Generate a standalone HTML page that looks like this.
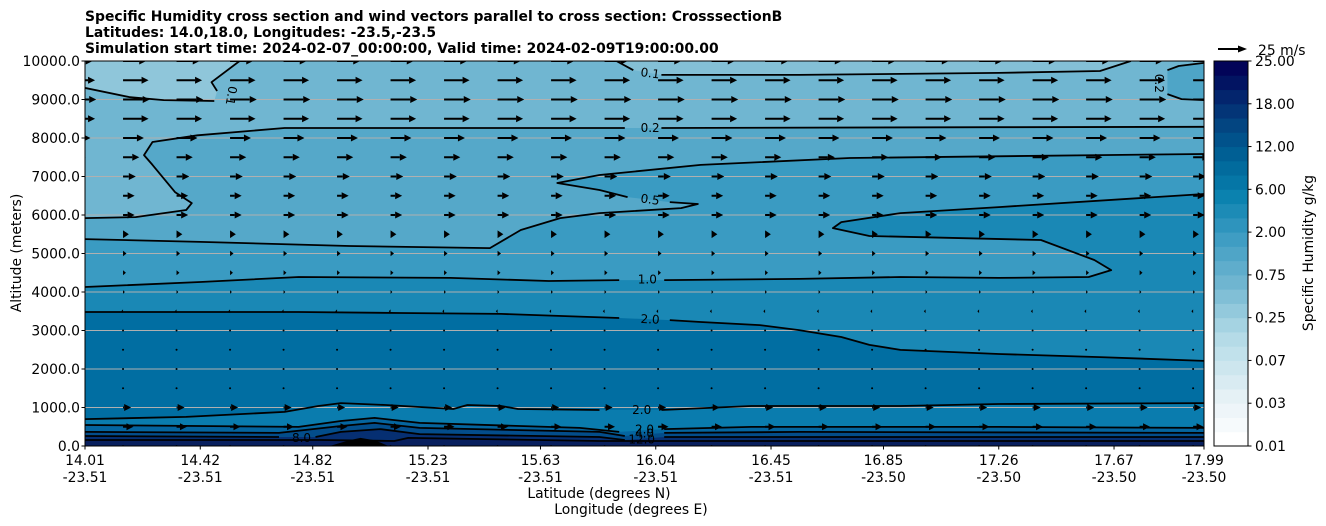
<!DOCTYPE html>
<html><head><meta charset="utf-8"><style>
body{margin:0;background:#fff;}
svg{display:block;font-family:"DejaVu Sans","Liberation Sans",sans-serif;}
</style></head><body>
<svg id="chart" width="1326" height="526" viewBox="0 0 1326 526" xmlns="http://www.w3.org/2000/svg">
<defs><clipPath id="plotclip"><rect x="85" y="61" width="1119" height="385"/></clipPath></defs>
<g font-weight="bold" font-size="13.9">
<text x="85" y="21">Specific Humidity cross section and wind vectors parallel to cross section: CrosssectionB</text>
<text x="85" y="37">Latitudes: 14.0,18.0, Longitudes: -23.5,-23.5</text>
<text x="85" y="53">Simulation start time: 2024-02-07_00:00:00, Valid time: 2024-02-09T19:00:00.00</text>
</g>
<g id="fills" clip-path="url(#plotclip)"></g>
<g id="grid"></g>
<g id="contours" clip-path="url(#plotclip)" fill="none" stroke="#000" stroke-width="1.8"></g>
<g id="arrows" clip-path="url(#plotclip)"></g>
<g id="clabels" font-size="12"></g>
<rect x="85" y="61" width="1119" height="385" fill="none" stroke="#000" stroke-width="1"/>
<g id="yaxis" font-size="13.9"></g>
<g id="xaxis" font-size="13.9"></g>
<text x="21" y="253" font-size="13.9" text-anchor="middle" transform="rotate(-90 21 253)">Altitude (meters)</text>
<text x="599" y="498" font-size="13.9" text-anchor="middle">Latitude (degrees N)</text>
<text x="631" y="514" font-size="13.9" text-anchor="middle">Longitude (degrees E)</text>
<g id="colorbar" font-size="13.9"></g>
<text x="1313" y="253" font-size="13.9" text-anchor="middle" transform="rotate(-90 1313 253)">Specific Humidity g/kg</text>
<g>
<line x1="1218" y1="49" x2="1240" y2="49" stroke="#000" stroke-width="2"/>
<polygon points="1247,49 1238,45.5 1238,52.5" fill="#000"/>
<text x="1258" y="55" font-size="13.9">25 m/s</text>
</g>
</svg>
<script>
const NS='http://www.w3.org/2000/svg';
// ---- data ----
const xTickLats=[14.01,14.42,14.82,15.23,15.63,16.04,16.45,16.85,17.26,17.67,17.99];
const xTickLabels=['14.01','14.42','14.82','15.23','15.63','16.04','16.45','16.85','17.26','17.67','17.99'];
const xTickLons=['-23.51','-23.51','-23.51','-23.51','-23.51','-23.51','-23.51','-23.50','-23.50','-23.50','-23.50'];
const yTicks=[0,1000,2000,3000,4000,5000,6000,7000,8000,9000,10000];
const cbarLabels=['0.01','0.03','0.07','0.25','0.75','2.00','6.00','12.00','18.00','25.00'];
const windAlts=[0,500,1000,1500,2000,2500,3000,3500,4000,4500,5000,5500,6000,6500,7000,7500,8000,8500,9000,9500,10000];
const windU=[1,9,7,0.4,0.3,0.4,0.8,-1.5,1.5,2.5,3,5,10,10,11,14,18,22,23,22,20];
const windColStart=13.955, windColStep=0.1903, windColCount=22;
// contour segments: [lats, alts]
const c01aLat=[14.01,14.17,14.29,14.47], c01aAlt=[9300,9060,8985,8960];
const c01bLat=[14.48,14.46,14.56], c01bAlt=[9220,9450,10000];
const c01cLat=[15.90,15.96], c01cAlt=[10000,9760];
const c01dLat=[16.06,16.55,17.26,17.62,17.73], c01dAlt=[9640,9640,9690,9740,10000];
const c02r1Lat=[17.86,17.90,17.99], c02r1Alt=[9760,9870,9950];
const c02r2Lat=[17.86,17.91,17.99], c02r2Alt=[9140,9010,8985];
const c02aLat=[14.01,14.19,14.37,14.39,14.33,14.25,14.22,14.25,14.41,14.72,15.43,15.93], c02aAlt=[5920,5945,6130,6310,6595,7300,7555,7895,8070,8260,8260,8260];
const c02bLat=[16.06,17.26,17.99], c02bAlt=[8260,8280,8290];
const c05aLat=[17.99,17.62,16.73,16.20,15.84,15.69,15.84,15.94], c05aAlt=[7585,7555,7480,7300,7040,6830,6650,6465];
const c05bLat=[16.09,16.19,16.13,15.84,15.70,15.56,15.45,14.95,14.42,14.01], c05bAlt=[6335,6285,6180,6050,5920,5610,5140,5195,5300,5375];
const c10aLat=[14.01,14.42,14.77,15.31,15.66,15.91], c10aAlt=[4130,4260,4390,4365,4285,4310];
const c10bLat=[16.07,16.55,16.91,17.26,17.58,17.66,17.60,17.41,16.80,16.67,16.70,16.91,17.26,17.99], c10bAlt=[4310,4340,4390,4365,4390,4570,4830,5350,5455,5660,5815,6050,6205,6545];
const c20aLat=[14.01,14.77,15.13,15.49,15.91], c20aAlt=[3480,3480,3455,3430,3325];
const c20bLat=[16.09,16.20,16.41,16.55,16.70,16.80,16.91,17.26,17.62,17.99], c20bAlt=[3270,3220,3140,3010,2830,2625,2495,2390,2310,2210];
const c20cLat=[14.01,14.37,14.72,14.84,14.92,15.08,15.32,15.37,15.49,15.55,15.84], c20cAlt=[700,755,885,1040,1115,1065,960,1065,1040,960,935];
const c20dLat=[16.06,16.38,16.91,17.26,17.99], c20dAlt=[935,1040,1040,1090,1115];
const s1aLat=[14.01,14.77,14.92,15.04,15.20,15.77,15.91], s1aAlt=[545,495,650,730,600,470,365];
const s1bLat=[16.07,16.38,17.26,17.99], s1bAlt=[440,495,495,470];
const s2aLat=[14.01,14.70,14.92,15.04,15.20,15.84,15.93], s2aAlt=[365,340,520,600,470,365,260];
const s2bLat=[16.07,16.55,17.99], s2bAlt=[340,365,340];
const s3aLat=[14.01,14.70], s3aAlt=[260,235];
const s3bLat=[14.83,14.92,15.06,15.20,15.84,15.93], s3bAlt=[235,365,440,310,235,155];
const s3cLat=[16.07,17.99], s3cAlt=[235,235];
const s4Lat=[14.01,14.85,15.11,15.16,15.84,17.99], s4Alt=[155,155,130,210,130,130];
const hillLat=[14.88,14.95,14.99,15.04,15.09], hillAlt=[0,150,210,150,0];

// ---- scales ----
const X=lat=>85+(lat-14.01)/3.98*1119;
const Y=alt=>446-alt/10000*385;
function pts(la,al){return la.map((v,i)=>X(v).toFixed(1)+','+Y(al[i]).toFixed(1));}
function mk(tag,attrs,parent){const e=document.createElementNS(NS,tag);for(const k in attrs)e.setAttribute(k,attrs[k]);parent.appendChild(e);return e;}

// ---- fills ----
const fills=document.getElementById('fills');
function fillBelow(la,al,color,name){
  const p=pts(la,al);
  const first=la[0], last=la[la.length-1];
  p.push(X(last).toFixed(1)+','+Y(0));p.push(X(first).toFixed(1)+','+Y(0));
  const e=mk('polygon',{points:p.join(' '),fill:color},fills);
  
  
}
let bg=mk('rect',{x:85,y:61,width:1119,height:385,fill:'#70b6d1'},fills);


let tl=mk('polygon',{points:pts([14.01].concat(c01aLat,c01bLat),[10000].concat(c01aAlt,c01bAlt)).join(' '),fill:'#8fc6da'},fills);


let tr=mk('polygon',{points:pts(c01cLat.concat(c01dLat),c01cAlt.concat(c01dAlt)).join(' '),fill:'#84c0d6'},fills);


let rl=mk('polygon',{points:pts(c02r2Lat.concat([17.99]),c02r2Alt.concat([9950])).join(' ')+' '+pts(c02r1Lat.slice().reverse(),c02r1Alt.slice().reverse()).join(' '),fill:'#4ea5c7'},fills);


fillBelow(c02aLat.concat(c02bLat),c02aAlt.concat(c02bAlt),'#55a8c9','fill-band-0.2-0.5');
fillBelow(c05aLat.concat(c05bLat).reverse(),c05aAlt.concat(c05bAlt).reverse(),'#3a9bc2','fill-band-0.5-1.0');
fillBelow(c10aLat.concat(c10bLat),c10aAlt.concat(c10bAlt),'#1a88b5','fill-band-1.0-2.0');
fillBelow(c20aLat.concat(c20bLat),c20aAlt.concat(c20bAlt),'#016ea2','fill-band-2.0');
fillBelow(c20cLat.concat(c20dLat),c20cAlt.concat(c20dAlt),'#0a7cae','fill-band-low-2.0');
fillBelow(s1aLat.concat(s1bLat),s1aAlt.concat(s1bAlt),'#05659f','fill-band-surface-1');
fillBelow(s2aLat.concat(s2bLat),s2aAlt.concat(s2bAlt),'#034d8b','fill-band-surface-2');
fillBelow(s3aLat.concat(s3bLat,s3cLat),s3aAlt.concat(s3bAlt,s3cAlt),'#062f72','fill-band-surface-3');
fillBelow(s4Lat,s4Alt,'#081f5e','fill-band-surface-4');

// ---- grid ----
const grid=document.getElementById('grid');
yTicks.forEach(t=>{if(t===0||t===10000)return;
  const l=mk('line',{x1:85,x2:1204,y1:Y(t),y2:Y(t),stroke:'#b0b0b0','stroke-width':1},grid);
  
  
});

// ---- contours ----
const cg=document.getElementById('contours');
const segs=[[c01aLat,c01aAlt],[c01bLat,c01bAlt],[c01cLat,c01cAlt],[c01dLat,c01dAlt],[c02r1Lat,c02r1Alt],[c02r2Lat,c02r2Alt],[c02aLat,c02aAlt],[c02bLat,c02bAlt],[c05aLat,c05aAlt],[c05bLat,c05bAlt],[c10aLat,c10aAlt],[c10bLat,c10bAlt],[c20aLat,c20aAlt],[c20bLat,c20bAlt],[c20cLat,c20cAlt],[c20dLat,c20dAlt],[s1aLat,s1aAlt],[s1bLat,s1bAlt],[s2aLat,s2aAlt],[s2bLat,s2bAlt],[s3aLat,s3aAlt],[s3bLat,s3bAlt],[s3cLat,s3cAlt],[s4Lat,s4Alt]];
segs.forEach((s,i)=>{
  const e=mk('polyline',{points:pts(s[0],s[1]).join(' '),'stroke-linejoin':'round'},cg);
  
  
});
const hill=mk('polygon',{points:pts(hillLat,hillAlt).join(' '),fill:'#000',stroke:'none'},cg);



// ---- contour labels ----
const cl=document.getElementById('clabels');
const labTxt=['0.1','0.2','0.5','1.0','2.0','2.0','8.0','2.0','4.0','12.0','0.1','0.2'];
const labLat=[16.02,16.02,16.02,16.01,16.02,15.99,14.78,16.00,16.00,15.99,14.53,17.83];
const labAlt=[9680,8260,6400,4330,3290,930,210,430,330,170,9100,9420];
const labRot=[8,0,8,0,3,0,0,0,0,0,100,90];
labTxt.forEach((t,i)=>{
  const x=X(labLat[i]),y=Y(labAlt[i])+4;
  const e=mk('text',{x:x,y:y,'text-anchor':'middle',transform:`rotate(${labRot[i]} ${x} ${y-4})`},cl);
  e.textContent=t;
  
  
});

// ---- arrows ----
const ag=document.getElementById('arrows');
const PXPERMS=29/25;
windAlts.forEach((alt,r)=>{
  for(let k=0;k<windColCount;k++){
    const lat=windColStart+k*windColStep;
    const x0=X(lat), y0=Y(alt);
    const len=windU[r]*PXPERMS, a=Math.abs(len), dir=Math.sign(len)||1;
    const g=mk('g',{},ag);
    
    
    if(a<1.5){mk('circle',{cx:x0,cy:y0,r:1,fill:'#000'},g);continue;}
    const hl=Math.min(7,a), hw=a<7?3.5*a/7+1:3.5;
    const tip=x0+dir*a, base=tip-dir*hl;
    if(a>hl) mk('line',{x1:x0,y1:y0,x2:base,y2:y0,stroke:'#000','stroke-width':2},g);
    mk('polygon',{points:`${tip},${y0} ${base},${y0-hw} ${base},${y0+hw}`,fill:'#000'},g);
  }
});

// ---- axes ----
const ya=document.getElementById('yaxis');
yTicks.forEach(t=>{
  const y=Y(t);
  const l=mk('line',{x1:81.5,x2:85,y1:y,y2:y,stroke:'#000'},ya);
  
  
  const e=mk('text',{x:80,y:y+5,'text-anchor':'end'},ya);
  e.textContent=t.toFixed(1);
  
  
});
const xa=document.getElementById('xaxis');
xTickLats.forEach((lat,i)=>{
  const x=X(lat);
  const l=mk('line',{x1:x,x2:x,y1:446,y2:449.5,stroke:'#000'},xa);
  
  
  const e=mk('text',{x:x,y:465,'text-anchor':'middle'},xa);
  e.textContent=xTickLabels[i];
  
  
  const e2=mk('text',{x:x,y:482,'text-anchor':'middle'},xa);
  e2.textContent=xTickLons[i];
  
  
});

// ---- colorbar ----
const cb=document.getElementById('colorbar');
const stops=[[0,[255,255,255]],[0.12,[228,240,245]],[0.28,[178,218,230]],[0.42,[112,182,208]],[0.55,[58,155,194]],[0.66,[8,128,174]],[0.76,[0,98,150]],[0.86,[3,64,126]],[1,[2,4,88]]];
function cmap(t){for(let i=1;i<stops.length;i++){if(t<=stops[i][0]){const [a,ca]=stops[i-1],[b,cbb]=stops[i];const f=(t-a)/(b-a);return 'rgb('+ca.map((v,j)=>Math.round(v+(cbb[j]-v)*f)).join(',')+')';}}return 'rgb(2,4,88)';}
const NB=(cbarLabels.length-1)*3, bh=385/NB;
for(let i=0;i<NB;i++){
  const r=mk('rect',{x:1214,y:446-(i+1)*bh,width:34,height:bh+0.5,fill:cmap(i/(NB-1))},cb);
  
  
}
mk('rect',{x:1214,y:61,width:34,height:385,fill:'none',stroke:'#000'},cb);
cbarLabels.forEach((t,i)=>{
  const y=446-i*3*bh;
  const l=mk('line',{x1:1248,x2:1251.5,y1:y,y2:y,stroke:'#000'},cb);
  
  
  const e=mk('text',{x:1255,y:y+5},cb);
  e.textContent=t;
  
  
});
</script>
</body></html>
